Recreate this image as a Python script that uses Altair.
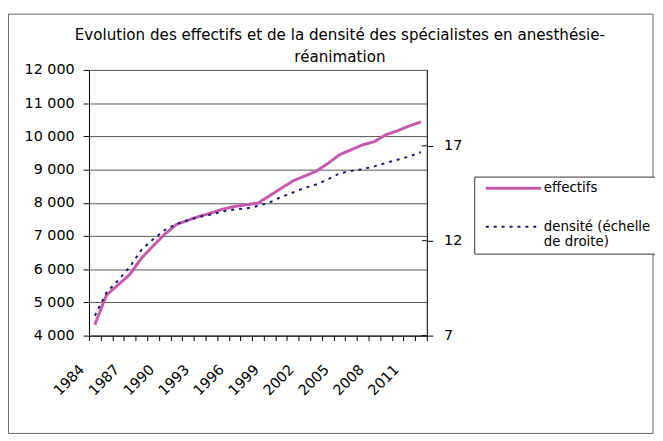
import altair as alt
import pandas as pd

# ---- data ----
years = list(range(1984, 2013))
effectifs = [4330, 5220, 5530, 5840, 6330, 6700, 7050, 7345, 7475, 7595,
             7695, 7810, 7890, 7940, 7990, 8210, 8435, 8655, 8800, 8950,
             9180, 9445, 9595, 9745, 9840, 10050, 10170, 10315, 10435]
densite = [8.05, 9.27, 9.91, 10.61, 11.52, 12.08, 12.56, 12.89, 13.07, 13.27,
           13.38, 13.55, 13.65, 13.70, 13.83, 14.02, 14.30, 14.54, 14.78, 14.96,
           15.23, 15.54, 15.68, 15.77, 15.92, 16.10, 16.27, 16.44, 16.67]
series_names = ["effectifs", "densité (échelle de droite)"]
title_lines = ["Evolution des effectifs et de la densité des spécialistes en anesthésie-",
               "réanimation"]
left_ticks = list(range(4000, 12001, 1000))
right_ticks = [7, 12, 17]

df = pd.DataFrame({"annee": years, "effectifs": effectifs, "densite": densite})
ticks_df = pd.DataFrame({"v": right_ticks})

FONT = "DejaVu Sans"
FS = 14.5
PINK = "#C55AAB"
NAVY = "#1B1B6B"
W, H = 342, 269

color_scale = alt.Scale(domain=series_names, range=[PINK, NAVY])
dash_scale = alt.Scale(domain=series_names, range=[[1, 0], [3, 5]])
width_scale = alt.Scale(domain=series_names, range=[3, 2])
dens_scale = alt.Scale(domain=[7, 21], nice=False, zero=False)

legend = alt.Legend(
    orient="none", legendX=390, legendY=108, title=None,
    symbolType="M0,0H14", symbolSize=64,
    labelFont=FONT, labelFontSize=13.5, labelColor="#000",
    labelBaseline="middle", labelOffset=52, labelLimit=200,
    labelExpr="datum.label == 'effectifs' ? 'effectifs' : ['densité (échelle', 'de droite)']",
    padding=5, rowPadding=24, strokeColor="#333", fillColor="white",
)

x_enc = alt.X(
    "annee:O",
    scale=alt.Scale(paddingInner=0, paddingOuter=0),
    axis=alt.Axis(
        title=None, labelAngle=-45, labelAlign="right", labelBaseline="middle",
        tickBand="extent", labelOverlap=False, labelPadding=27, labelOffset=-13,
        tickSize=5, labelFont=FONT, labelFontSize=FS, labelColor="#000",
        domainColor="#000", tickColor="#000", grid=False,
        labelExpr="(datum.value - 1984) % 3 == 0 ? datum.label : ''",
    ),
)

border = alt.Chart(pd.DataFrame({"a": [0]})).mark_rect(
    fill="transparent", stroke="#666", strokeWidth=1
).encode(
    x=alt.value(-81.5), x2=alt.value(571), y=alt.value(-56.5), y2=alt.value(368)
)

line_eff = alt.Chart(df).transform_calculate(
    serie="'effectifs'"
).mark_line(strokeCap="butt").encode(
    x=x_enc,
    y=alt.Y(
        "effectifs:Q",
        scale=alt.Scale(domain=[4000, 12000], nice=False, zero=False),
        axis=alt.Axis(
            title=None, orient="left", values=left_ticks, grid=True,
            gridColor="#555", gridWidth=1, tickSize=6, labelPadding=9,
            labelFont=FONT, labelFontSize=FS, labelColor="#000",
            domainColor="#000", tickColor="#000",
            labelExpr="replace(format(datum.value, ','), ',', ' ')",
        ),
    ),
    color=alt.Color("serie:N", scale=color_scale, legend=legend),
    strokeDash=alt.StrokeDash("serie:N", scale=dash_scale, legend=legend),
    strokeWidth=alt.StrokeWidth("serie:N", scale=width_scale, legend=legend),
)

line_den = alt.Chart(df).transform_calculate(
    serie="'densité (échelle de droite)'"
).mark_line(strokeCap="butt").encode(
    x=x_enc,
    y=alt.Y(
        "densite:Q",
        scale=dens_scale,
        axis=alt.Axis(
            title=None, orient="right", values=right_ticks, grid=False,
            tickSize=6, labelPadding=11,
            labelFont=FONT, labelFontSize=FS, labelColor="#000",
            domainColor="#000", tickColor="#000",
        ),
    ),
    color=alt.Color("serie:N", scale=color_scale, legend=legend),
    strokeDash=alt.StrokeDash("serie:N", scale=dash_scale, legend=legend),
    strokeWidth=alt.StrokeWidth("serie:N", scale=width_scale, legend=legend),
)

# inner half of the right-axis cross ticks
inner_ticks = alt.Chart(ticks_df).mark_rule(color="#000", strokeWidth=1).encode(
    y=alt.Y("v:Q", scale=dens_scale, axis=None),
    x=alt.value(W - 5), x2=alt.value(W),
)

chart = alt.layer(border, line_eff, line_den, inner_ticks).resolve_scale(
    y="independent"
).properties(
    width=W, height=H,
    autosize=alt.AutoSizeParams(type="none"),
    padding={"left": 82, "top": 60, "right": 231, "bottom": 104},
    title=alt.TitleParams(
        text=title_lines, font=FONT, fontSize=15.3, fontWeight="normal",
        color="#000", anchor="middle", frame="group", dx=83, dy=54, offset=2,
        lineHeight=22,
    ),
).configure_view(stroke=None).configure(background="white")

chart.save("out.html", embed_options={"renderer": "svg", "actions": False})
